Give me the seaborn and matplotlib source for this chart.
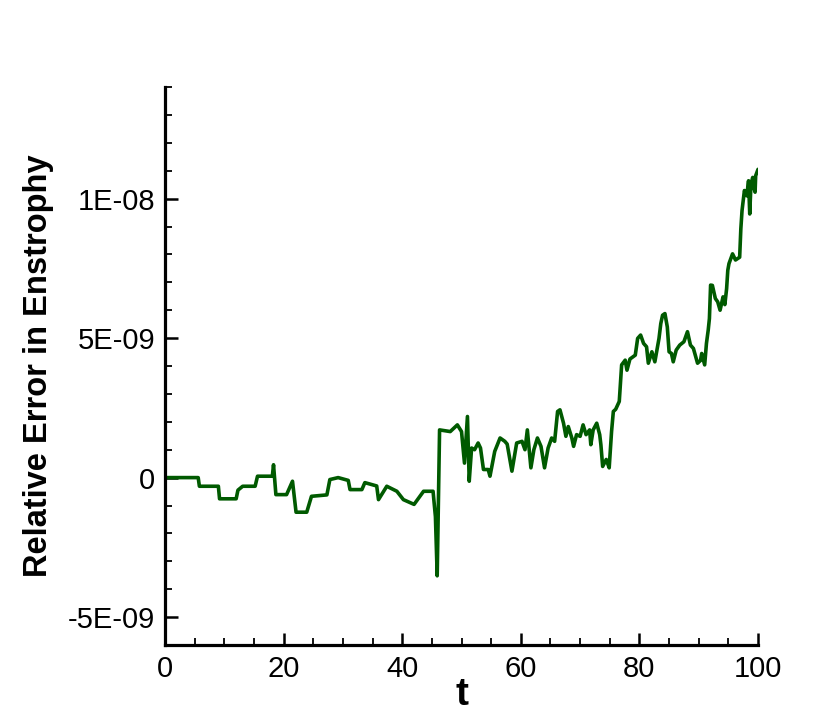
import numpy as np
import pandas as pd
import matplotlib
matplotlib.use("Agg")
import matplotlib.pyplot as plt
import seaborn as sns
from matplotlib.ticker import MultipleLocator, FixedLocator, FixedFormatter

# values (error in units of 1e-9)
t_vals = [0, 5.6, 5.8, 9.0, 9.2, 12.0, 12.3, 13.1, 15.2, 15.6, 18.1, 18.3, 18.7, 20.5,
          21.5, 22.1, 23.9, 24.7, 27.3, 27.8, 29.2, 30.9, 31.2, 33.2, 33.7, 35.7, 36.0,
          37.4, 39.1, 40.2, 42.0, 43.6, 45.2, 45.6, 45.9, 46.3, 48.1, 49.3, 50.0, 50.5,
          51.0, 51.3, 51.7, 52.2, 52.8, 53.2, 53.7, 54.5, 54.8, 55.6, 56.5, 57.3, 57.7,
          58.5, 59.3, 60.2, 60.7, 61.1, 61.7, 62.2, 62.8, 63.4, 64.0, 64.6, 65.2, 65.7,
          66.2, 66.6, 67.2, 67.6, 68.0, 68.6, 68.9, 69.4, 70.0, 70.5, 71.0, 71.6, 71.8,
          72.2, 72.8, 73.3, 73.5, 73.8, 74.4, 74.9, 75.3, 75.6, 76.0, 76.6, 76.8, 77.0,
          77.6, 77.9, 78.4, 79.3, 79.7, 80.2, 80.7, 81.2, 81.5, 82.1, 82.6, 83.0, 83.3,
          83.6, 83.9, 84.3, 84.7, 85.0, 85.4, 85.7, 86.2, 86.8, 87.5, 88.1, 88.6, 89.1,
          89.8, 90.3, 90.5, 91.0, 91.3, 91.6, 91.8, 92.0, 92.3, 92.8, 93.2, 93.6, 94.1,
          94.4, 94.7, 94.9, 95.1, 95.7, 96.2, 96.9, 97.1, 97.3, 97.5, 97.7, 98.1, 98.4,
          98.6, 98.8, 99.1, 99.3, 99.5, 99.6, 99.9, 100.0]
err_vals = [0, 0, -0.31, -0.31, -0.76, -0.76, -0.45, -0.31, -0.31, 0.05, 0.05, 0.46, -0.61,
            -0.61, -0.13, -1.24, -1.24, -0.67, -0.62, -0.07, 0.0, -0.1, -0.43, -0.43, -0.18,
            -0.3, -0.79, -0.31, -0.49, -0.79, -0.96, -0.49, -0.49, -1.4, -3.52, 1.71, 1.65,
            1.89, 1.65, 0.52, 2.19, -0.13, 1.06, 1.0, 1.24, 1.06, 0.29, 0.29, 0.05, 0.94,
            1.42, 1.3, 1.2, 0.23, 1.24, 1.30, 1.0, 1.71, 0.35, 1.0, 1.42, 1.12, 0.35, 1.06,
            1.42, 1.30, 2.37, 2.43, 1.95, 1.48, 1.83, 1.42, 1.12, 1.54, 1.48, 1.89, 1.54,
            1.71, 1.18, 1.71, 1.95, 1.54, 1.18, 0.40, 0.65, 0.35, 1.65, 2.37, 2.45, 2.73,
            3.38, 4.04, 4.21, 3.85, 4.25, 4.39, 4.99, 5.11, 4.81, 4.69, 4.10, 4.51, 4.15,
            4.63, 4.99, 5.52, 5.82, 5.88, 5.40, 4.51, 4.45, 4.15, 4.57, 4.75, 4.87, 5.23,
            4.75, 4.63, 4.10, 4.20, 4.45, 4.04, 4.81, 5.29, 5.7, 6.9, 6.89, 6.42, 6.3, 6.0,
            6.48, 6.2, 6.77, 7.43, 7.67, 8.02, 7.8, 7.9, 8.92, 9.57, 9.93, 10.29, 10.1,
            10.64, 9.45, 10.5, 10.76, 10.4, 10.23, 10.82, 11.0, 11.05]

y_ticks = [-5e-9, 0, 5e-9, 1e-8]
y_tick_labels = ['-5E-09', '0', '5E-09', '1E-08']
x_ticks = [0, 20, 40, 60, 80, 100]

df = pd.DataFrame({'t': t_vals, 'err': np.array(err_vals) * 1e-9})

sns.set_style("white")
plt.rcParams['font.family'] = ['Liberation Sans', 'DejaVu Sans']
plt.rcParams['text.color'] = 'black'
plt.rcParams['axes.labelcolor'] = 'black'

fig = plt.figure(figsize=(8.18, 7.27), dpi=100)
ax = fig.add_axes([0.2017, 0.1128, 0.7250, 0.7675])

sns.lineplot(data=df, x='t', y='err', ax=ax, color='#005a00', linewidth=2.6, sort=False)

ax.set_xlim(0, 100)
ax.set_ylim(-6e-9, 1.4e-8)
ax.xaxis.set_major_locator(FixedLocator(x_ticks))
ax.xaxis.set_minor_locator(MultipleLocator(5))
ax.yaxis.set_major_locator(FixedLocator(y_ticks))
ax.yaxis.set_major_formatter(FixedFormatter(y_tick_labels))
ax.yaxis.set_minor_locator(MultipleLocator(1e-9))

for side in ['top', 'right']:
    ax.spines[side].set_visible(False)
for side in ['left', 'bottom']:
    ax.spines[side].set_linewidth(2.3)
    ax.spines[side].set_color('black')

ax.tick_params(which='major', direction='in', length=9, width=1.8, labelsize=21,
               pad=7, colors='black', labelcolor='black')
ax.tick_params(which='minor', direction='in', length=5, width=1.3, colors='black')
ax.tick_params(axis='x', which='both', bottom=True)
ax.tick_params(axis='y', which='both', left=True)

ax.set_xlabel('t', fontsize=28, fontweight='bold', labelpad=-4)
ax.set_ylabel('Relative Error in Enstrophy', fontsize=23.5, fontweight='bold', labelpad=10)

fig.savefig('out.png', dpi=100)
